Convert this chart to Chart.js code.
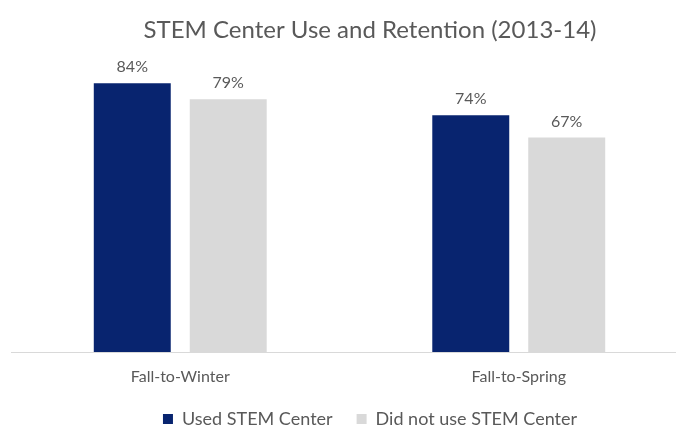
<!DOCTYPE html>
<html>
<head>
<meta charset="utf-8">
<script src="https://cdn.jsdelivr.net/npm/chart.js@4.4.1/dist/chart.umd.min.js"></script>
<style>
  html, body { margin: 0; padding: 0; background: #ffffff; overflow: hidden; }
  #wrap { width: 740px; height: 428px; }
</style>
</head>
<body>
<div id="wrap"><canvas id="chart" width="740" height="428"></canvas></div>
<script>
// Retention rates (%) by term transition
const categories = ['Fall-to-Winter', 'Fall-to-Spring'];
const usedCenter = [84, 74];
const notUsedCenter = [79, 67];
const seriesNames = ['Used STEM Center', 'Did not use STEM Center'];
const chartTitle = 'STEM Center Use and Retention (2013-14)';

const textGray = '#595959';
const fontFamily = 'Lato, "Open Sans", "DejaVu Sans", sans-serif';

// Writes the percentage above each bar
const valueLabels = {
  id: 'valueLabels',
  afterDatasetsDraw(chart) {
    const ctx = chart.ctx;
    ctx.save();
    ctx.font = '16px ' + fontFamily;
    ctx.fillStyle = textGray;
    ctx.textAlign = 'center';
    ctx.textBaseline = 'middle';
    chart.data.datasets.forEach((ds, i) => {
      chart.getDatasetMeta(i).data.forEach((bar, j) => {
        ctx.fillText(ds.data[j] + '%', bar.x, bar.y - 16);
      });
    });
    ctx.restore();
  }
};

new Chart(document.getElementById('chart'), {
  type: 'bar',
  data: {
    labels: categories,
    datasets: [
      { label: seriesNames[0], data: usedCenter, backgroundColor: '#08246f' },
      { label: seriesNames[1], data: notUsedCenter, backgroundColor: '#d9d9d9' }
    ]
  },
  options: {
    responsive: false,
    animation: false,
    events: [],
    layout: { padding: { left: 11, right: 11, top: 0, bottom: -10 } },
    datasets: { bar: { categoryPercentage: 0.567, barPercentage: 0.802 } },
    scales: {
      x: {
        offset: true,
        grid: { display: false, drawTicks: false },
        border: { display: true, color: '#d9d9d9', width: 1 },
        ticks: { color: textGray, font: { family: fontFamily, size: 16 }, padding: 15.4 },
        afterFit(scale) { scale.height = 34; }
      },
      y: {
        position: 'right',
        min: 0,
        max: 90,
        grid: { display: false, drawTicks: false },
        border: { display: false },
        ticks: { display: false },
        afterFit(scale) { scale.width = 41; }
      }
    },
    plugins: {
      title: {
        display: true,
        text: chartTitle,
        color: textGray,
        font: { family: fontFamily, size: 24, weight: 'normal' },
        padding: { top: 16, bottom: 19.2 }
      },
      legend: {
        position: 'bottom',
        labels: {
          color: textGray,
          font: { family: fontFamily, size: 18 },
          boxWidth: 10,
          boxHeight: 10,
          padding: 24
        }
      },
      tooltip: { enabled: false }
    }
  },
  plugins: [valueLabels]
});
</script>
</body>
</html>
